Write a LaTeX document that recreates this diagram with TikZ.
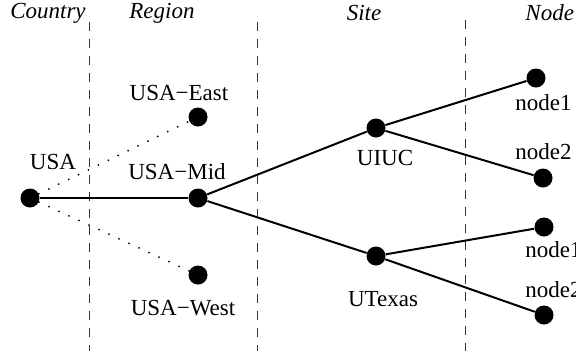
\documentclass[tikz,border=0pt]{standalone}
\usepackage{fontspec}
\setmainfont{Liberation Serif}
\begin{document}
\begin{tikzpicture}[x=0.5bp,y=-0.5bp,
  dot/.style={circle,fill=black,inner sep=0pt,minimum size=9.5bp},
  lbl/.style={inner sep=0pt,font=\fontsize{11.5bp}{14bp}\selectfont},
  hdr/.style={lbl,font=\fontsize{11.5bp}{14bp}\selectfont\itshape},
  sep/.style={line width=0.5bp,dash pattern=on 4.5bp off 4bp,black!80},
  link/.style={line width=1bp},
  weak/.style={line width=1bp,line cap=round,dash pattern=on 0bp off 5.5bp}]
\useasboundingbox (0,0) rectangle (576,351);
% headers
\node[hdr] (hc) at (48,13) {Country};
\node[hdr] (hr) at (162,13) {Region};
\node[hdr] (hs) at (364,13) {Site};
\node[hdr,anchor=west] (hn) at (525,13) {Node};
% separators
\coordinate (s1t) at (89,22); \coordinate (s1b) at (89,351);
\coordinate (s2t) at (257,22); \coordinate (s2b) at (257,351);
\coordinate (s3t) at (465,20); \coordinate (s3b) at (465,351);
\draw[sep] (s1t) -- (s1b);
\draw[sep] (s2t) -- (s2b);
\draw[sep] (s3t) -- (s3b);
% dots
\node[dot] (usa) at (30,198) {};
\node[dot] (east) at (198,117) {};
\node[dot] (mid) at (198,198) {};
\node[dot] (west) at (198,275) {};
\node[dot] (uiuc) at (376,128) {};
\node[dot] (utx) at (376,256) {};
\node[dot] (a1) at (536,78) {};
\node[dot] (a2) at (543,178) {};
\node[dot] (b1) at (544,227) {};
\node[dot] (b2) at (544,315) {};
% labels
\node[lbl] (lusa) at (53,162) {USA};
\node[lbl] (least) at (179,93) {USA−East};
\node[lbl] (lmid) at (177,172) {USA−Mid};
\node[lbl] (lwest) at (183,308) {USA−West};
\node[lbl] (luiuc) at (385,158) {UIUC};
\node[lbl] (lutx) at (383,299) {UTexas};
\node[lbl,anchor=west] (la1) at (515,103) {node1};
\node[lbl,anchor=west] (la2) at (515,152) {node2};
\node[lbl,anchor=west] (lb1) at (525,250) {node1};
\node[lbl,anchor=west] (lb2) at (525,290) {node2};
% links
\draw[weak] (usa) -- (east);
\draw[weak] (usa) -- (west);
\draw[link] (usa) -- (mid);
\draw[link] (mid) -- (uiuc);
\draw[link] (mid) -- (utx);
\draw[link] (uiuc) -- (a1);
\draw[link] (uiuc) -- (a2);
\draw[link] (utx) -- (b1);
\draw[link] (utx) -- (b2);
\end{tikzpicture}
\end{document}
